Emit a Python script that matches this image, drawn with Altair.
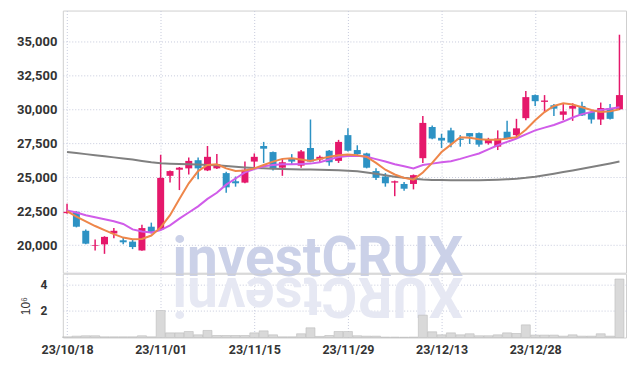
import altair as alt
import pandas as pd

dates = ["2023-10-18", "2023-10-19", "2023-10-20", "2023-10-23", "2023-10-24", "2023-10-25", "2023-10-26", "2023-10-27", "2023-10-30", "2023-10-31",
         "2023-11-01", "2023-11-02", "2023-11-03", "2023-11-06", "2023-11-07", "2023-11-08", "2023-11-09", "2023-11-10", "2023-11-13", "2023-11-14",
         "2023-11-15", "2023-11-16", "2023-11-17", "2023-11-20", "2023-11-21", "2023-11-22", "2023-11-23", "2023-11-24", "2023-11-27", "2023-11-28",
         "2023-11-29", "2023-11-30", "2023-12-01", "2023-12-04", "2023-12-05", "2023-12-06", "2023-12-07", "2023-12-08", "2023-12-11", "2023-12-12",
         "2023-12-13", "2023-12-14", "2023-12-15", "2023-12-18", "2023-12-19", "2023-12-20", "2023-12-21", "2023-12-22", "2023-12-26", "2023-12-27",
         "2023-12-28", "2024-01-02", "2024-01-03", "2024-01-04", "2024-01-05", "2024-01-08", "2024-01-09", "2024-01-10", "2024-01-11", "2024-01-12"]

opens = [22350, 22450, 21050, 19950, 20050, 20850, 20350, 20250, 19600, 21350,
         21150, 25100, 25550, 25650, 26250, 25500, 25650, 25300, 24700, 24600,
         26150, 27300, 26850, 25700, 26350, 25850, 27150, 26300, 26950, 26200,
         28100, 27000, 26750, 25450, 25050, 24600, 24500, 24500, 26400, 28700,
         27900, 28450, 27850, 28250, 28250, 27500, 27250, 28350, 28100, 29350,
         31050, 30550, 30300, 29600, 30050, 30250, 29800, 29250, 30100, 30000]

highs = [23050, 22500, 21150, 20400, 20650, 21250, 20550, 20400, 21500, 21650,
         26650, 25500, 25750, 26450, 26450, 27300, 26700, 25400, 25050, 26150,
         26750, 27600, 26900, 26350, 26700, 27000, 29250, 26600, 27000, 27750,
         28600, 27350, 26800, 25650, 25300, 24750, 24650, 25200, 29500, 28800,
         28200, 28650, 28100, 28250, 28300, 27900, 28450, 29150, 29300, 31350,
         31100, 31050, 30400, 30450, 30450, 30550, 29850, 30500, 30400, 35500]

lows = [22300, 21300, 20050, 19600, 19350, 20500, 20050, 19700, 19580, 20850,
        21100, 24600, 24050, 25200, 24850, 25450, 25600, 23850, 24300, 24550,
        25700, 26050, 25500, 25100, 25900, 25700, 26100, 26050, 25850, 26050,
        26900, 26600, 25650, 24800, 24300, 23600, 24000, 24100, 26050, 27800,
        27150, 27200, 27250, 27450, 27250, 27400, 27000, 27800, 27900, 29200,
        30250, 29800, 29500, 29200, 29150, 29500, 28950, 28850, 29250, 29950]

closes = [22450, 21350, 20100, 20000, 20600, 21050, 20200, 19850, 21250, 20950,
          24950, 25450, 25700, 26200, 25650, 26500, 25950, 24250, 24550, 25550,
          26500, 27100, 25600, 26100, 26150, 26900, 26150, 26500, 26100, 27600,
          26950, 26700, 25700, 24950, 24550, 24700, 24150, 25150, 29000, 27850,
          27700, 27550, 27750, 28000, 27400, 27750, 27850, 27850, 28600, 30900,
          30600, 30650, 30050, 29850, 30250, 29550, 29250, 30100, 29300, 31050]

volumes = [50000, 100000, 130000, 130000, 50000, 50000, 50000, 50000, 130000, 50000,
           2030000, 350000, 350000, 450000, 200000, 530000, 150000, 150000, 150000, 150000,
           350000, 500000, 200000, 50000, 50000, 280000, 730000, 80000, 150000, 450000,
           450000, 130000, 100000, 100000, 30000, 30000, 20000, 30000, 1680000, 430000,
           200000, 350000, 200000, 280000, 130000, 130000, 200000, 350000, 300000, 950000,
           180000, 180000, 180000, 100000, 200000, 100000, 100000, 280000, 100000, 4400000]

ma_short = [22500, 22100, 21750, 21400, 21100, 20800, 20550, 20420, 20450, 20700,
            21300, 22200, 23400, 24550, 25450, 25900, 25950, 25650, 25450, 25500,
            25650, 25900, 26150, 26350, 26400, 26300, 26200, 26350, 26500, 26620,
            26670, 26620, 26500, 26050, 25550, 25200, 24950, 24820, 25350, 26050,
            26850, 27400, 27950, 27900, 27800, 27750, 27750, 27850, 27950, 28500,
            29200, 29800, 30250, 30450, 30350, 30150, 29950, 29800, 29850, 30000]

ma_mid = [22550, 22400, 22200, 22050, 21900, 21750, 21550, 21150, 21000, 20930,
          21100, 21450, 21950, 22400, 22850, 23400, 23850, 24450, 24900, 25350,
          25600, 25800, 25900, 25950, 25960, 25980, 26000, 26100, 26300, 26480,
          26560, 26580, 26500, 26330, 26150, 25950, 25800, 25650, 25900, 26000,
          26100, 26180, 26350, 26550, 26750, 27050, 27350, 27600, 27850, 28150,
          28450, 28650, 28850, 29100, 29400, 29650, 29800, 29950, 30050, 30150]

ma_long = [26850, 26780, 26700, 26620, 26540, 26460, 26380, 26300, 26200, 26100,
           26020, 25990, 25970, 25950, 25930, 25900, 25880, 25830, 25770, 25720,
           25680, 25650, 25620, 25600, 25580, 25570, 25560, 25550, 25530, 25510,
           25480, 25430, 25350, 25260, 25150, 25040, 24950, 24880, 24830, 24800,
           24790, 24780, 24770, 24770, 24780, 24790, 24810, 24840, 24880, 24950,
           25040, 25150, 25260, 25380, 25500, 25620, 25750, 25880, 26010, 26150]

tick_idx = [0, 10, 20, 30, 40, 50]
price_ticks = [20000, 22500, 25000, 27500, 30000, 32500, 35000]
volume_ticks = [2000000, 4000000]

n = len(dates)
df = pd.DataFrame({
    "i": list(range(n)), "date": dates, "open": opens, "high": highs,
    "low": lows, "close": closes, "volume": volumes,
    "ma_short": ma_short, "ma_mid": ma_mid, "ma_long": ma_long,
})
df["dir"] = ["up" if c >= o else "down" for o, c in zip(opens, closes)]


def short(d):
    return f"{d[2:4]}/{d[5:7]}/{d[8:10]}"


label_expr = " : ".join(f"datum.value == {k} ? '{short(dates[k])}'" for k in tick_idx) + " : ''"

FONT = "Roboto, Liberation Sans, sans-serif"
GRID = "#c6cadc"
x_scale = alt.Scale(domain=[-0.45, 59.7], nice=False, zero=False, padding=0)
color_scale = alt.Scale(domain=["up", "down"], range=["#e5186b", "#2d92c4"])
y_scale = alt.Scale(domain=[17960, 37280], nice=False, zero=False, padding=0)

base = alt.Chart(df)

x_main = alt.X("i:Q", scale=x_scale,
               axis=alt.Axis(values=tick_idx, labels=False, ticks=False, domain=False,
                             title=None, grid=True, gridDash=[1, 2], gridColor=GRID))
y_axis = alt.Axis(values=price_ticks, format=",d", title=None, ticks=False, domain=False,
                  labelPadding=6, labelFont=FONT, labelFontSize=13, labelFontWeight="bold",
                  labelColor="#333333", gridDash=[1, 2], gridColor=GRID,
                  minExtent=54, maxExtent=54)
color = alt.Color("dir:N", scale=color_scale, legend=None)

watermark = alt.Chart(pd.DataFrame({"t": ["investCRUX"]})).mark_text(
    font=FONT, fontSize=55, fontWeight="bold", color="#cbd1e8",
    align="left", baseline="alphabetic"
).encode(x=alt.value(110), y=alt.value(266), text="t:N")

wick = base.mark_rule(strokeWidth=1.5).encode(
    x=x_main, y=alt.Y("low:Q", scale=y_scale, axis=y_axis), y2="high:Q", color=color)
body = base.mark_bar(size=7).encode(x="i:Q", y="open:Q", y2="close:Q", color=color)
line_long = base.mark_line(color="#808080", strokeWidth=2).encode(x="i:Q", y="ma_long:Q")
line_mid = base.mark_line(color="#d05ce9", strokeWidth=2).encode(x="i:Q", y="ma_mid:Q")
line_short = base.mark_line(color="#ee864a", strokeWidth=2).encode(x="i:Q", y="ma_short:Q")

main = alt.layer(watermark, wick, body, line_long, line_mid, line_short).properties(width=565, height=263)

x_vol = alt.X("i:Q", scale=x_scale,
              axis=alt.Axis(values=tick_idx, labelExpr=label_expr, ticks=False, domain=False,
                            title=None, grid=True, gridDash=[1, 2], gridColor=GRID,
                            labelFont=FONT, labelFontSize=12.5, labelFontWeight="bold",
                            labelColor="#333333", labelPadding=6))
y_vol = alt.Y("volume:Q", scale=alt.Scale(domain=[0, 4800000], nice=False, padding=0),
              axis=alt.Axis(values=volume_ticks, labelExpr="format(datum.value / 1000000, 'd')",
                            title="10⁶", titleFontWeight="normal", titleFontSize=12,
                            titleColor="#333333", titlePadding=8, ticks=False, domain=False,
                            labelPadding=16, labelFont=FONT, labelFontSize=12,
                            labelFontWeight="bold", labelColor="#333333",
                            gridDash=[1, 2], gridColor=GRID, minExtent=22, maxExtent=22))

reflection = alt.Chart(pd.DataFrame({"t": ["XURCtsevni"]})).mark_text(
    font=FONT, fontSize=55, fontWeight="bold", color="#e6e8f3", angle=180,
    align="right", baseline="alphabetic"
).encode(x=alt.value(110), y=alt.value(4), text="t:N")

vol_bars = base.mark_bar(size=9, fill="#d9d9d9", stroke="#bcbcbc", strokeWidth=0.6).encode(
    x=x_vol, y=y_vol)

vol = alt.layer(reflection, vol_bars).properties(width=565, height=64)

chart = alt.vconcat(main, vol, spacing=1, bounds="flush").properties(
    padding={"left": 0, "top": 1, "right": 0, "bottom": 0}
).configure_view(stroke="#cfcfcf")

chart.save("out.html", embed_options={"renderer": "svg", "actions": False})
